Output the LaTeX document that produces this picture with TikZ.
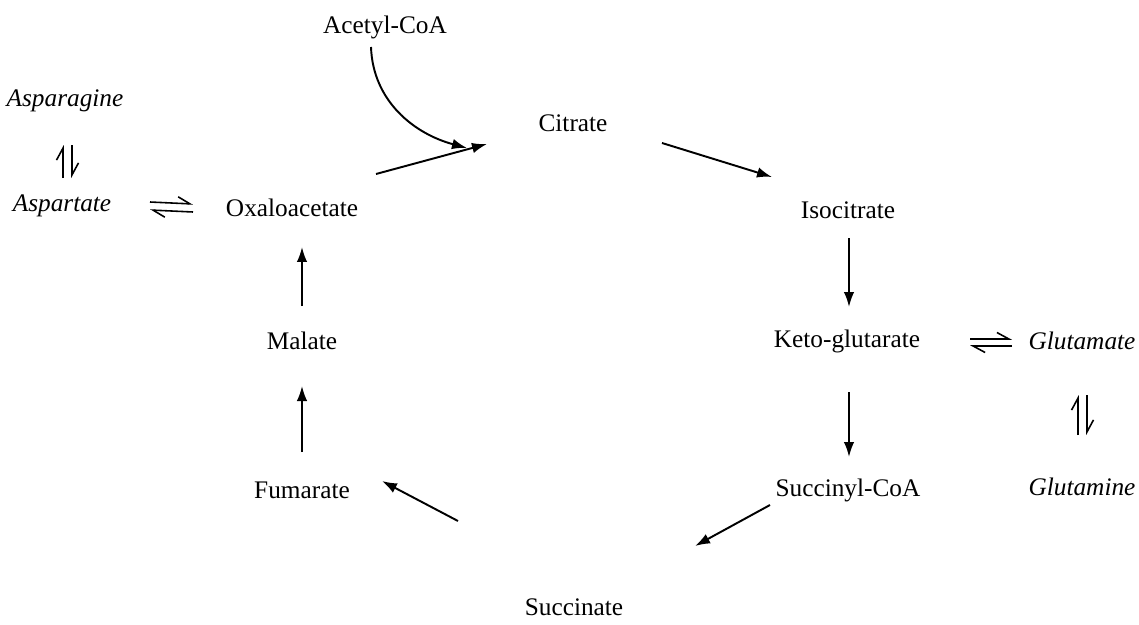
\documentclass[tikz,border=0pt]{standalone}
\usepackage{fontspec}
\setmainfont{Liberation Serif}
\usetikzlibrary{arrows.meta}
\begin{document}
\begin{tikzpicture}[x=0.02cm, y=-0.02cm,
  every node/.style={font=\fontsize{14.4}{17}\selectfont, inner sep=0pt},
  amino/.style={font=\fontsize{14.4}{17}\selectfont\itshape},
  rxn/.style={line width=1.1pt, -{Latex[length=3mm,width=2.1mm]}},
  eq/.style={line width=0.9pt, -{Straight Barb[left,length=2.4mm,width=2.6mm]}}]
  \useasboundingbox (0,0) rectangle (1139,625);
  % metabolites of the cycle
  \node (acoa) at (385,27) {Acetyl-CoA};
  \node (cit) at (573,123) {Citrate};
  \node (oxa) at (292,208) {Oxaloacetate};
  \node (iso) at (848,210) {Isocitrate};
  \node (mal) at (302,341) {Malate};
  \node (keto) at (847,341) {Keto-glutarate};
  \node (fum) at (302,490) {Fumarate};
  \node (sca) at (848,490) {Succinyl-CoA};
  \node (suc) at (574,607) {Succinate};
  % amino acids
  \node[amino] (asn) at (65,101) {Asparagine};
  \node[amino] (asp) at (62,206) {Aspartate};
  \node[amino] (glu) at (1082,341) {Glutamate};
  \node[amino] (gln) at (1082,487) {Glutamine};
  \coordinate (oxam) at (oxa.center -| mal.center);
  % cycle
  \draw[rxn] ([shift={(-14,20)}]acoa.center) to[out=-88,in=165] ([shift={(-106,25)}]cit.center);
  \draw[rxn] ([shift={(84,-34)}]oxa.center) -- ([shift={(-86,21)}]cit.center);
  \draw[rxn] ([shift={(89,20)}]cit.center) -- ([shift={(-76,-33)}]iso.center);
  \draw[rxn] ([shift={(1,28)}]iso.center) -- ([shift={(2,-34)}]keto.center);
  \draw[rxn] ([shift={(2,51)}]keto.center) -- ([shift={(1,-33)}]sca.center);
  \draw[rxn] ([shift={(-78,15)}]sca.center) -- ([shift={(121,-61)}]suc.center);
  \draw[rxn] ([shift={(-116,-86)}]suc.center) -- ([shift={(80,-9)}]fum.center);
  \draw[rxn] ([shift={(0,-38)}]fum.center) -- ([shift={(0,45)}]mal.center);
  \draw[rxn] ([shift={(0,-35)}]mal.center) -- ([shift={(0,39)}]oxam);
  % equilibria
  \draw[eq] ([shift={(88,-4)}]asp.center) -- ([shift={(-99,-4)}]oxa.center);
  \draw[eq] ([shift={(-99,4)}]oxa.center) -- ([shift={(88,4)}]asp.center);
  \draw[eq] ([shift={(1,-28)}]asp.center) -- ([shift={(-2,44)}]asn.center);
  \draw[eq] ([shift={(7,44)}]asn.center) -- ([shift={(10,-28)}]asp.center);
  \draw[eq] ([shift={(123,-2)}]keto.center) -- ([shift={(-70,-2)}]glu.center);
  \draw[eq] ([shift={(-70,5)}]glu.center) -- ([shift={(123,5)}]keto.center);
  \draw[eq] ([shift={(-4,-52)}]gln.center) -- ([shift={(-4,54)}]glu.center);
  \draw[eq] ([shift={(5,54)}]glu.center) -- ([shift={(5,-52)}]gln.center);
\end{tikzpicture}
\end{document}
